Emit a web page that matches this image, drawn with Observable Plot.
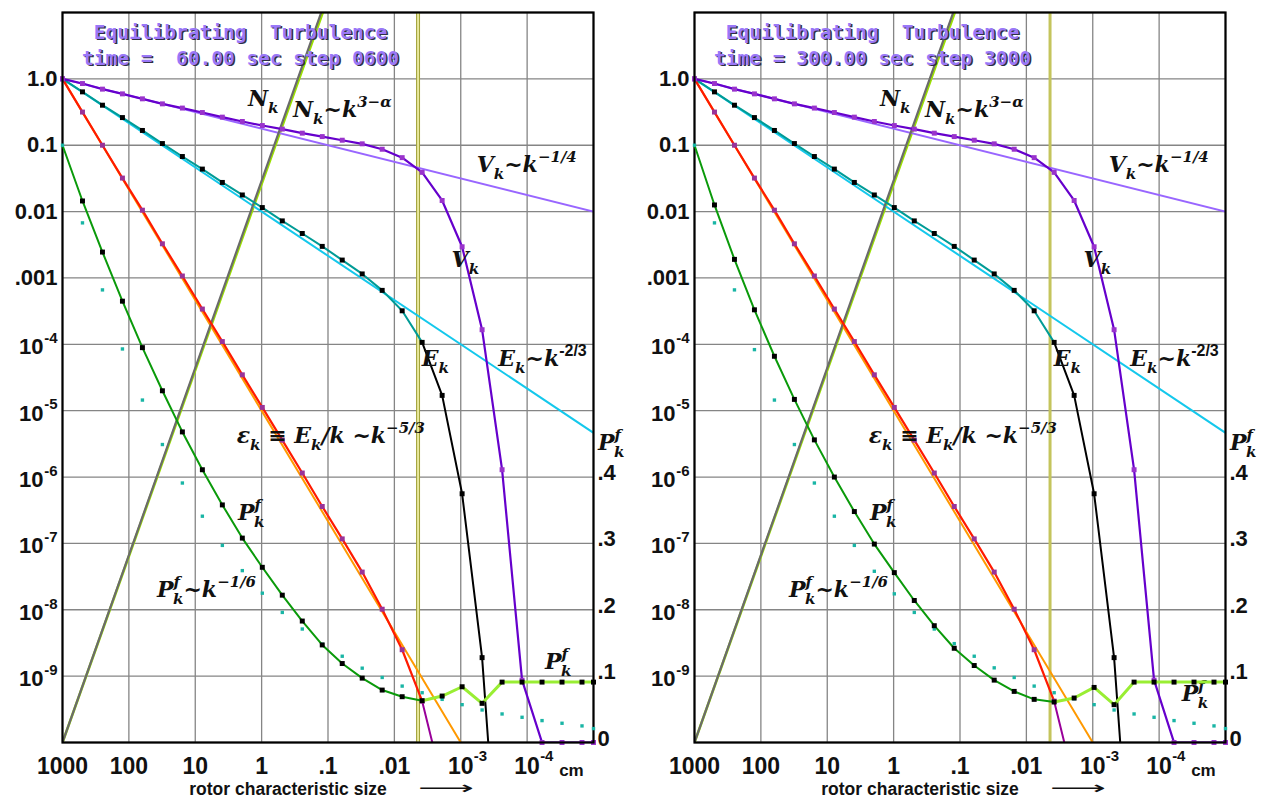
<!DOCTYPE html>
<html><head><meta charset="utf-8">
<script src="https://cdn.jsdelivr.net/npm/d3@7"></script>
<script src="https://cdn.jsdelivr.net/npm/@observablehq/plot@0.6"></script>
<style>
body{margin:0;background:#fff;}
#wrap{position:relative;width:1262px;height:800px;overflow:hidden;background:#fff;}
.panel{position:absolute;top:0;height:800px;}
.panel svg{position:absolute;left:0;top:0;overflow:visible;}
</style></head><body><div id="wrap"></div>
<script>
// ---------- DATA ----------
// rotor characteristic size (cm), halving at each step, last point at the right edge
const sizeCm = [1000, 500, 250, 125, 62.5, 31.25, 15.63, 7.813, 3.906, 1.953, 0.9766, 0.4883, 0.2441, 0.1221,
  0.06104, 0.03052, 0.01526, 0.007629, 0.003815, 0.001907, 0.0009537, 0.0004768, 0.0002384, 0.0001192,
  0.0000596, 0.0000298, 0.0000149, 0.00001];

// V_k (velocity spectrum, log scale); 1e-10 = on the floor of the chart
const vk = [1, 0.85, 0.70, 0.594, 0.50, 0.42, 0.363, 0.311, 0.265, 0.228, 0.198, 0.175, 0.152, 0.135,
  0.119, 0.105, 0.087, 0.065, 0.039, 0.0147, 0.00295, 1.66e-4, 1.29e-6, 8.7e-10, 1e-10, 1e-10, 1e-10, 1e-10];
// E_k (energy spectrum)
const ek = [1, 0.637, 0.401, 0.261, 0.167, 0.106, 0.0676, 0.0437, 0.0275, 0.0178, 0.0115, 0.00724, 0.00468,
  0.00299, 0.00186, 0.00115, 6.5e-4, 3.2e-4, 1.07e-4, 1.7e-5, 5.6e-7, 1.9e-9, 1.3e-13];
// eps_k = E_k / k
const epsk = [1, 0.316, 0.1, 0.032, 0.0105, 0.00327, 0.00107, 3.4e-4, 1.1e-4, 3.47e-5, 1.12e-5, 3.6e-6,
  1.15e-6, 3.6e-7, 1.17e-7, 3.7e-8, 1.02e-8, 2.5e-9, 4.2e-10, 2.5e-11];
// P_k^f (linear, right axis)
const pLeft = [0.90, 0.816, 0.739, 0.665, 0.595, 0.530, 0.468, 0.411, 0.358, 0.308, 0.264, 0.222, 0.183,
  0.147, 0.119, 0.097, 0.079, 0.069, 0.063, 0.070, 0.084, 0.059, 0.091, 0.091, 0.091, 0.091, 0.091, 0.091];
const pRight = [0.90, 0.810, 0.728, 0.652, 0.582, 0.517, 0.456, 0.400, 0.348, 0.299, 0.256, 0.214, 0.176,
  0.142, 0.116, 0.094, 0.077, 0.065, 0.061, 0.067, 0.083, 0.057, 0.091, 0.091, 0.091, 0.091, 0.091, 0.091];
// P_k^f ~ k^-1/6 (cyan dots, linear)
const pFitLeft = [0.90, 0.783, 0.682, 0.593, 0.516, 0.449, 0.391, 0.341, 0.297, 0.259, 0.225, 0.196, 0.171,
  0.148, 0.130, 0.112, 0.098, 0.085, 0.075, 0.065, 0.057, 0.049, 0.043, 0.038, 0.033, 0.029, 0.025, 0.021];
const pFitRight = [0.90, 0.783, 0.682, 0.592, 0.516, 0.449, 0.391, 0.341, 0.297, 0.258, 0.224, 0.196, 0.171,
  0.149, 0.130, 0.1125, 0.098, 0.085, 0.075, 0.066, 0.057, 0.049, 0.043, 0.038, 0.033, 0.029, 0.025, 0.021];

// power-law reference lines (end points)
const vFitSize = [1000, 1e-5], vFitVal = [1, 0.01];          // V_k ~ k^-1/4
const eFitSize = [1000, 1e-5], eFitVal = [1, 4.64e-6];       // E_k ~ k^-2/3
const epsFitSize = [1000, 1e-3], epsFitVal = [1, 1e-10];     // eps_k ~ k^-5/3
const nkSize = [1000, 0.1], nkVal = [1e-10, 19.4];           // N_k
const nkFitSize = [1000, 0.1], nkFitVal = [1e-10, 16.6];     // N_k ~ k^(3-alpha)
const markerSize = [0.0044];                                  // vertical marker

// ticks
const xGrid = [1000, 100, 10, 1, 0.1, 0.01, 1e-3, 1e-4, 1e-5];
const yGrid = [10, 1, 0.1, 0.01, 1e-3, 1e-4, 1e-5, 1e-6, 1e-7, 1e-8, 1e-9, 1e-10];
const xTicks = [1000, 100, 10, 1, 0.1, 0.01, 1e-3, 1e-4];
const xTickBase = ["1000", "100", "10", "1", ".1", ".01", "10", "10"];
const xTickSup = ["", "", "", "", "", "", "-3", "-4"];
const yTicks = [1, 0.1, 0.01, 1e-3, 1e-4, 1e-5, 1e-6, 1e-7, 1e-8, 1e-9];
const yTickBase = ["1.0", "0.1", "0.01", ".001", "10", "10", "10", "10", "10", "10"];
const yTickSup = ["", "", "", "", "-4", "-5", "-6", "-7", "-8", "-9"];
const pTicks = [0, 0.1, 0.2, 0.3, 0.4];
const pTickLabels = ["0", ".1", ".2", ".3", ".4"];

const titleLine1 = "Equilibrating\u00a0 Turbulence";
const titleLeft = "time =\u00a0 60.00 sec step 0600";
const titleRight = "time = 300.00 sec step 3000";
const xTitle = "rotor characteristic size";

// ---------- DRAWING ----------
const SANS = "'Liberation Sans', Arial, sans-serif";
const MONO = "'DejaVu Sans Mono', monospace";
const SERIF = "'DejaVu Serif', serif";
const TICK = {fontSize: 22, fontWeight: "bold", fontFamily: SANS, fill: "#111", lineAnchor: "middle"};
const SUP = {fontSize: 15, fontWeight: "bold", fontFamily: SANS, fill: "#111", lineAnchor: "middle"};
const TITLE = {fontSize: 19.5, fontWeight: "bold", fontFamily: MONO, textAnchor: "middle", lineAnchor: "middle"};

const Pf = [["P"], ["f", "sup"], ["k", "sub", -7]];

function drawPanel(p) {
  const wrap = document.getElementById("wrap");
  const holder = document.createElement("div");
  holder.className = "panel";
  holder.style.left = p.left + "px";
  holder.style.width = p.width + "px";
  wrap.appendChild(holder);

  const rows = (vals, from = 0, to = vals.length - 1) =>
    vals.map((v, i) => ({s: sizeCm[i], v, i})).filter(d => d.i >= from && d.i <= to);
  const pair = (xs, ys) => xs.map((s, i) => ({s, v: ys[i]}));

  const common = {
    width: p.width, height: 800, marginLeft: 62, marginRight: p.width - 62 - 531,
    marginTop: 12, marginBottom: 58,
    x: {type: "log", domain: [1000, 1e-5], axis: null}
  };

  const supIdx = yTicks.map((d, i) => i).filter(i => yTickSup[i]);
  const plainIdx = yTicks.map((d, i) => i).filter(i => !yTickSup[i]);
  const xSupIdx = xTicks.map((d, i) => i).filter(i => xTickSup[i]);

  const main = Plot.plot({
    ...common,
    y: {type: "log", domain: [1e-10, 10], axis: null},
    style: {background: "white", overflow: "visible"},
    marks: [
      Plot.ruleY(yGrid, {stroke: "#858585", strokeWidth: 1.3}),
      Plot.ruleX(xGrid, {stroke: "#858585", strokeWidth: 1.3}),
      ...(p.doubleMarker
        ? [Plot.ruleX(markerSize, {stroke: "#a3a33a", strokeWidth: 4}),
           Plot.ruleX(markerSize, {stroke: "#f6f6b0", strokeWidth: 1.6})]
        : [Plot.ruleX(markerSize, {stroke: "#c4c45c", strokeWidth: 3})]),
      Plot.line(pair(nkFitSize, nkFitVal), {x: "s", y: "v", stroke: "#9be000", strokeWidth: 2.6, clip: true}),
      Plot.line(pair(vFitSize, vFitVal), {x: "s", y: "v", stroke: "#9966ff", strokeWidth: 2, clip: true}),
      Plot.line(pair(eFitSize, eFitVal), {x: "s", y: "v", stroke: "#14c8ec", strokeWidth: 2, clip: true}),
      Plot.line(pair(epsFitSize, epsFitVal), {x: "s", y: "v", stroke: "#ff9900", strokeWidth: 2, clip: true}),
      Plot.line(pair(nkSize, nkVal), {x: "s", y: "v", stroke: "#6b6b6b", strokeWidth: 2.2, clip: true}),
      Plot.line(rows(ek, 0, 18), {x: "s", y: "v", stroke: "#009b96", strokeWidth: 2, clip: true}),
      Plot.line(rows(ek, 18), {x: "s", y: "v", stroke: "#000", strokeWidth: 2, clip: true}),
      Plot.line(rows(epsk, 0, 18), {x: "s", y: "v", stroke: "#ff1a00", strokeWidth: 2.2, clip: true}),
      Plot.line(rows(epsk, 18), {x: "s", y: "v", stroke: "#990099", strokeWidth: 2, clip: true}),
      Plot.line(rows(vk), {x: "s", y: "v", stroke: "#6600cc", strokeWidth: 2.2, clip: true}),
      Plot.dot(rows(ek, 1, 21), {x: "s", y: "v", symbol: "square", r: 2.8, fill: "#000"}),
      Plot.dot(rows(epsk, 0, 18), {x: "s", y: "v", symbol: "square", r: 2.8, fill: "#993399"}),
      Plot.dot(rows(vk), {x: "s", y: "v", symbol: "square", r: 2.8, fill: "#9933cc"}),
      Plot.frame({stroke: "#000", strokeWidth: 2.2}),
      // left tick labels
      Plot.text(plainIdx, {y: i => yTicks[i], text: i => yTickBase[i], frameAnchor: "left", dx: -5, textAnchor: "end", ...TICK}),
      Plot.text(supIdx, {y: i => yTicks[i], text: i => yTickBase[i], frameAnchor: "left", dx: -19, dy: 3, textAnchor: "end", ...TICK}),
      Plot.text(supIdx, {y: i => yTicks[i], text: i => yTickSup[i], frameAnchor: "left", dx: -5, dy: -6, textAnchor: "end", ...SUP}),
      // bottom tick labels
      Plot.text(xTicks.map((d, i) => i), {x: i => xTicks[i], text: i => xTickBase[i], frameAnchor: "bottom", dy: 24, textAnchor: "middle", ...TICK, fontSize: 23}),
      Plot.text(xSupIdx, {x: i => xTicks[i], text: i => xTickSup[i], frameAnchor: "bottom", dy: 14, dx: 13, textAnchor: "start", ...SUP}),
      Plot.text(["cm"], {x: () => 1e-4, text: d => d, frameAnchor: "bottom", dy: 28, dx: 32, textAnchor: "start", ...SUP, fontSize: 17}),
      Plot.text([xTitle], {text: d => d, frameAnchor: "bottom", dx: -40, dy: 47, textAnchor: "middle", lineAnchor: "middle", fontSize: 17.5, fontWeight: "bold", fontFamily: SANS, fill: "#111"}),
      // title with shadow
      Plot.text([titleLine1], {text: d => d, frameAnchor: "top-left", dx: 179.5, dy: 21.5, fill: "#2e2e44", ...TITLE}),
      Plot.text([titleLine1], {text: d => d, frameAnchor: "top-left", dx: 178, dy: 20, fill: "#9a78f8", ...TITLE}),
      Plot.text([p.title2], {text: d => d, frameAnchor: "top-left", dx: 179.5, dy: 47.5, fill: "#2e2e44", ...TITLE}),
      Plot.text([p.title2], {text: d => d, frameAnchor: "top-left", dx: 178, dy: 46, fill: "#9a78f8", ...TITLE})
    ]
  });
  holder.appendChild(main);

  const overlay = Plot.plot({
    ...common,
    y: {type: "linear", domain: [0, 1.1], axis: null},
    style: {background: "transparent", overflow: "visible"},
    marks: [
      Plot.line(rows(p.P, 0, 18), {x: "s", y: "v", stroke: "#0a9a0a", strokeWidth: 2}),
      Plot.line(rows(p.P, 18), {x: "s", y: "v", stroke: "#99ee33", strokeWidth: 3}),
      Plot.dot(rows(p.Pfit), {x: "s", y: "v", symbol: "square", r: 1.9, fill: "#19b5a5"}),
      Plot.dot(rows(p.P, 1), {x: "s", y: "v", symbol: "square", r: 2.8, fill: "#000"}),
      Plot.text(pTicks.map((d, i) => i), {y: i => pTicks[i], text: i => pTickLabels[i], frameAnchor: "right", dx: 4, dy: -4, textAnchor: "start", ...TICK})
    ]
  });
  holder.appendChild(overlay);

  // math labels placed through the chart's scales
  const xs = main.scale("x"), ys = main.scale("y");
  const sx = d3.scaleLog().domain(xs.domain).range(xs.range);
  const sy = d3.scaleLog().domain(ys.domain).range(ys.range);
  const svg = d3.select(main);
  const labels = [
    {x: 1.58, y: 0.383, parts: [["N"], ["k", "sub"]]},
    {x: 0.331, y: 0.264, parts: [["N"], ["k", "sub"], ["~k"], ["3−α", "sup"]]},
    {x: 5.65e-4, y: 0.0392, parts: [["V"], ["k", "sub"], ["~k"], ["−1/4", "sup"]]},
    {x: 1.35e-3, y: 1.45e-3, parts: [["V"], ["k", "sub"]]},
    {x: 3.8e-3, y: 4.6e-5, parts: [["E"], ["k", "sub"]]},
    {x: 2.67e-4, y: 4.6e-5, parts: [["E"], ["k", "sub"], ["~k"], ["-2/3", "supsans"]]},
    {x: 2.33, y: 3.2e-6, parts: [["ε"], ["k", "sub"], [" ≡ E"], ["k", "sub"], ["/k ~k"], ["−5/3", "sup"]]},
    {x: 2.23, y: 2.2e-7, parts: Pf},
    {x: 37, y: 1.53e-8, parts: [...Pf, ["~k"], ["−1/6", "sup"]]},
    {x: p.tailX, y: p.tailY, parts: Pf},
    {x: 8.4e-6, y: 2.5e-6, parts: Pf}
  ];
  for (const lab of labels) {
    const t = svg.append("text")
      .attr("x", sx(lab.x)).attr("y", sy(lab.y)).attr("text-anchor", "start")
      .attr("font-family", SERIF).attr("font-weight", "bold").attr("font-style", "italic")
      .attr("font-size", 22).attr("fill", "#111").style("white-space", "pre");
    let cur = 0;
    for (const [txt, kind, dx] of lab.parts) {
      const off = kind === "sub" ? 7 : kind && kind.startsWith("sup") ? -10 : 0;
      const ts = t.append("tspan").text(txt).attr("dy", off - cur);
      cur = off;
      if (kind) ts.attr("font-size", 15);
      if (kind === "supsans") ts.attr("font-family", SANS).attr("font-style", "normal").attr("font-size", 16);
      if (dx) ts.attr("dx", dx);
    }
  }
  // long arrow after the axis title
  svg.append("text").attr("x", xs.range[0] + 356).attr("y", 794).attr("text-anchor", "start")
    .attr("font-family", "'DejaVu Sans', sans-serif").attr("font-size", 18).attr("fill", "#111")
    .attr("textLength", 56).attr("lengthAdjust", "spacingAndGlyphs").text("⟶");
}

drawPanel({left: 0, width: 632, title2: titleLeft, P: pLeft, Pfit: pFitLeft, doubleMarker: true, tailX: 5.29e-5, tailY: 1.26e-9});
drawPanel({left: 632, width: 630, title2: titleRight, P: pRight, Pfit: pFitRight, doubleMarker: false, tailX: 4.5e-5, tailY: 4.1e-10});
</script>
</body></html>
